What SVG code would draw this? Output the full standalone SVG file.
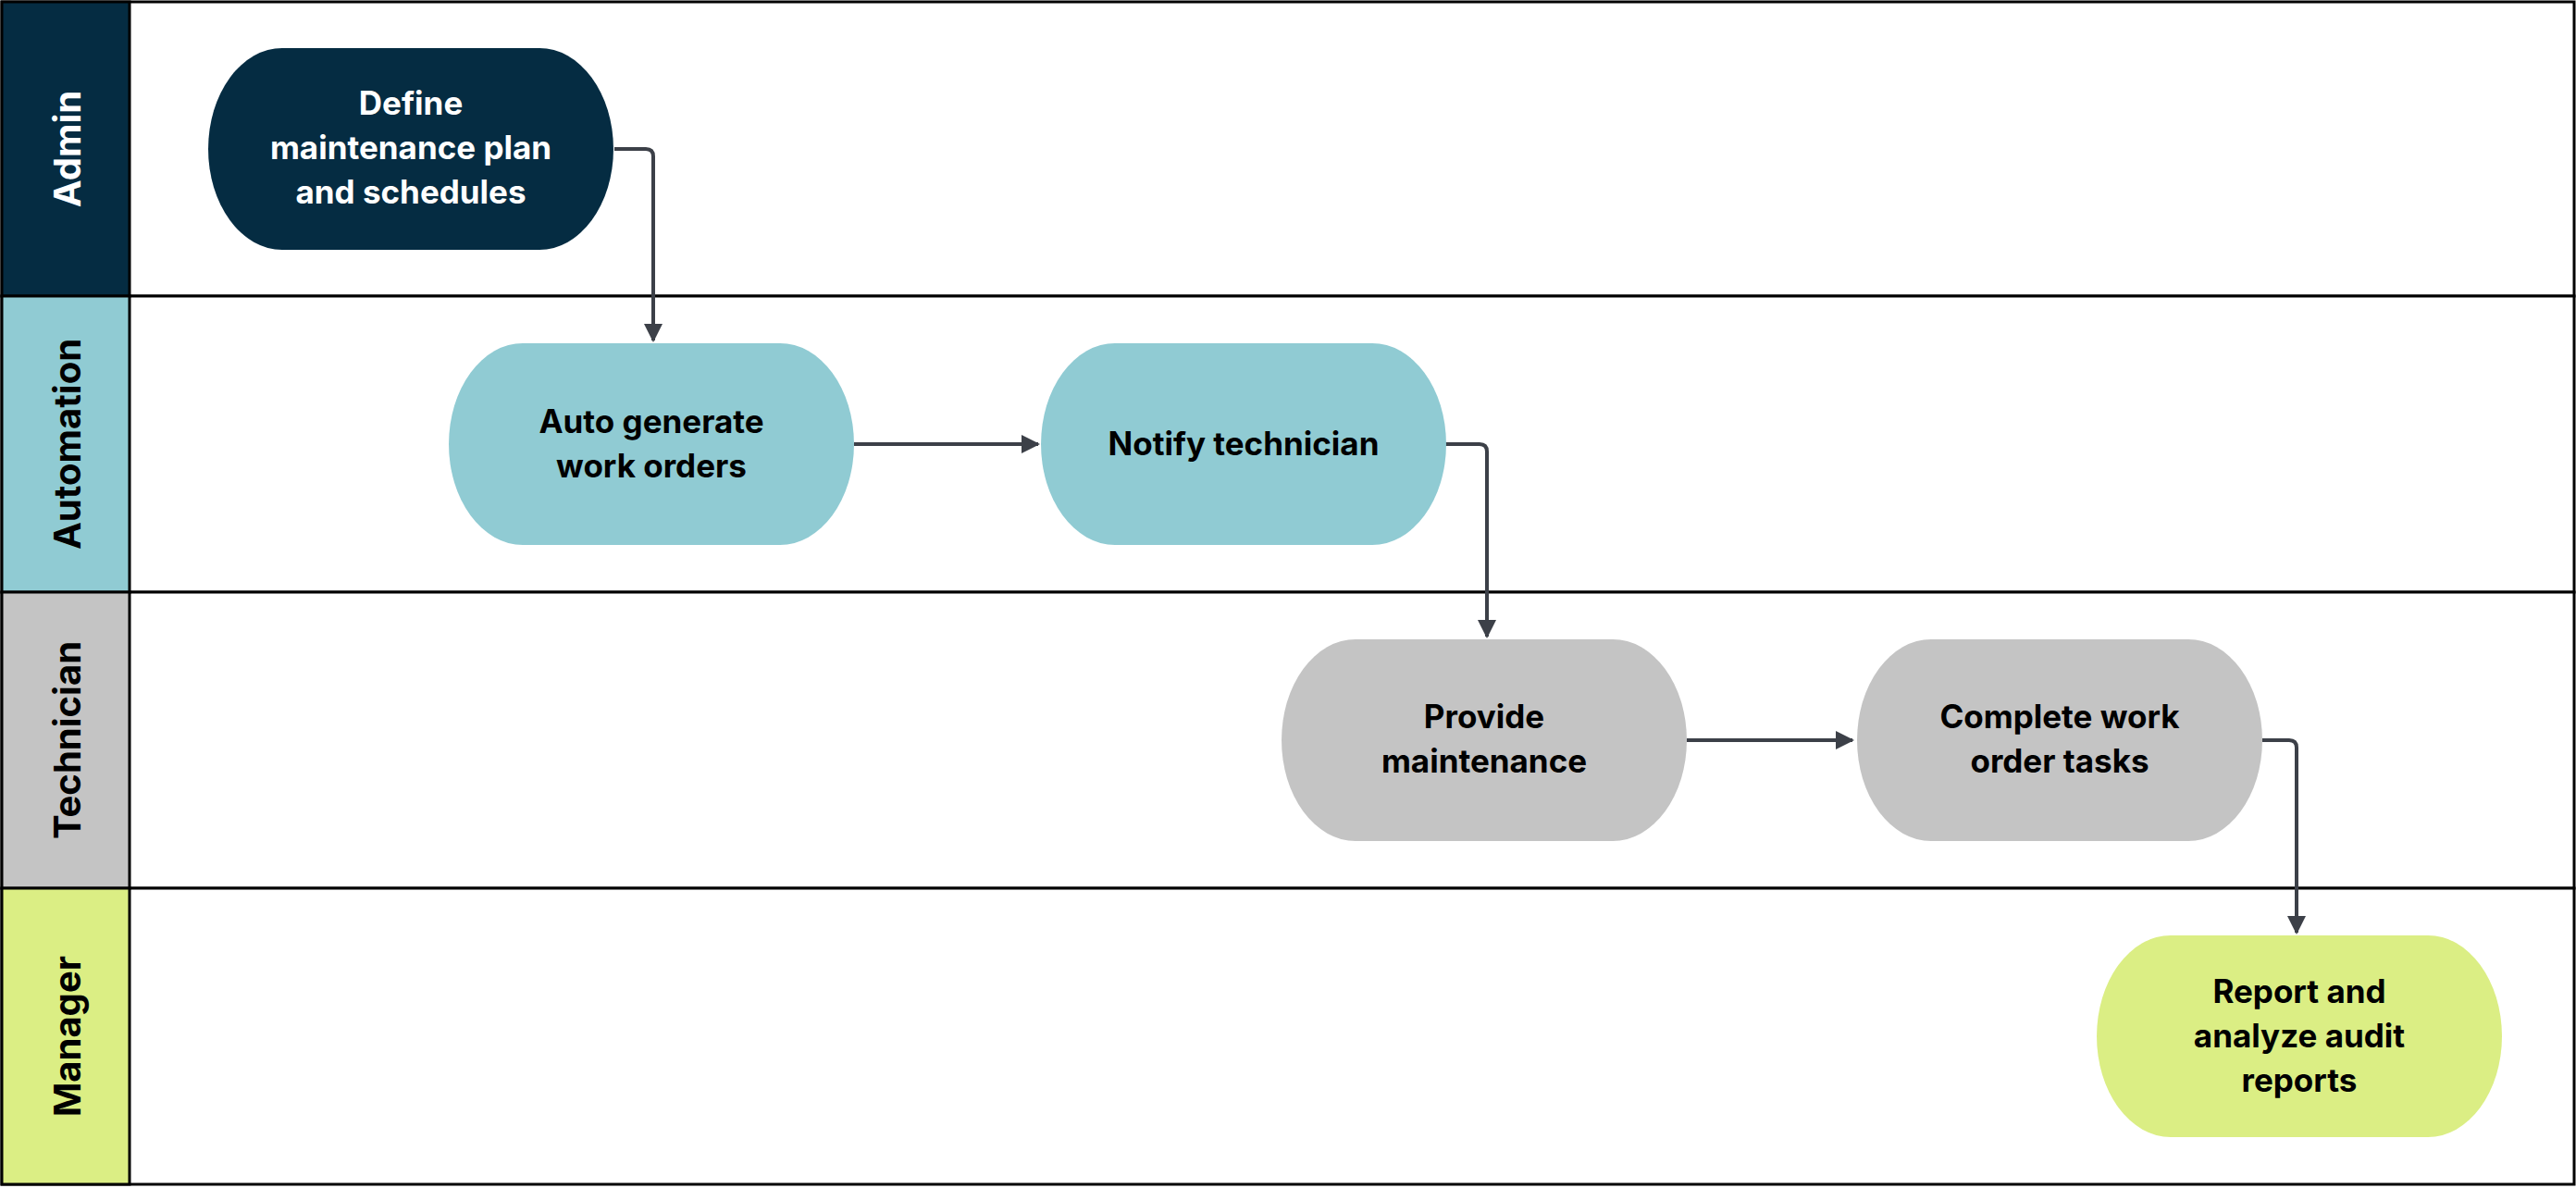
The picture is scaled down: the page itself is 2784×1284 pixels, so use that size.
<svg xmlns="http://www.w3.org/2000/svg" width="2784" height="1284" viewBox="0 0 2784 1284">
<style>
.lane{fill:#fff;stroke:#000;stroke-width:3}
.hdr{stroke:#000;stroke-width:3}
.lt{font-family:"Inter","Liberation Sans",sans-serif;font-weight:700;font-size:40px;text-anchor:middle;dominant-baseline:central}
.nt{font-family:"Inter","Liberation Sans",sans-serif;font-weight:700;font-size:35px;text-anchor:middle}
.c{fill:none;stroke:#3c4048;stroke-width:4;stroke-linejoin:round}
</style>
<defs>
<marker id="a" viewBox="0 0 10 10" refX="9" refY="5" markerWidth="5" markerHeight="5" orient="auto" markerUnits="strokeWidth"><path d="M0,0L10,5L0,10z" fill="#3c4048"/></marker>
<path id="shape" d="M-139,-109 H139 A80,109 0 0 1 139,109 H-139 A80,109 0 0 1 -139,-109 Z"/>
</defs>
<g id="lanes">
<rect class="lane" x="2" y="2" width="2780" height="318"/>
<rect class="lane" x="2" y="320" width="2780" height="320"/>
<rect class="lane" x="2" y="640" width="2780" height="320"/>
<rect class="lane" x="2" y="960" width="2780" height="320"/>
<rect class="hdr" x="2" y="2" width="138" height="318" fill="#052c42"/>
<rect class="hdr" x="2" y="320" width="138" height="320" fill="#90cbd3"/>
<rect class="hdr" x="2" y="640" width="138" height="320" fill="#c4c4c4"/>
<rect class="hdr" x="2" y="960" width="138" height="320" fill="#dbee84"/>
<text class="lt" fill="#fff" transform="translate(72,161) rotate(-90)">Admin</text>
<text class="lt" fill="#000" transform="translate(72,480) rotate(-90)">Automation</text>
<text class="lt" fill="#000" transform="translate(72,800) rotate(-90)">Technician</text>
<text class="lt" fill="#000" transform="translate(72,1120) rotate(-90)">Manager</text>
</g>
<g id="connectors">
<path class="c" d="M664,161 H698 Q706,161 706,169 V368" marker-end="url(#a)"/>
<path class="c" d="M923,480 H1122" marker-end="url(#a)"/>
<path class="c" d="M1562,480 H1599 Q1607,480 1607,488 V688" marker-end="url(#a)"/>
<path class="c" d="M1823,800 H2002" marker-end="url(#a)"/>
<path class="c" d="M2445,800 H2474 Q2482,800 2482,808 V1008" marker-end="url(#a)"/>
</g>
<g id="n1"><use href="#shape" x="444" y="161" fill="#052c42"/>
<text class="nt" fill="#fff" x="444" y="124">Define</text><text class="nt" fill="#fff" x="444" y="172">maintenance plan</text><text class="nt" fill="#fff" x="444" y="220">and schedules</text></g>
<g id="n2"><use href="#shape" x="704" y="480" fill="#90cbd3"/>
<text class="nt" x="704" y="468">Auto generate</text><text class="nt" x="704" y="516">work orders</text></g>
<g id="n3"><use href="#shape" x="1344" y="480" fill="#90cbd3"/>
<text class="nt" x="1344" y="492">Notify technician</text></g>
<g id="n4"><use href="#shape" x="1604" y="800" fill="#c4c4c4"/>
<text class="nt" x="1604" y="787">Provide</text><text class="nt" x="1604" y="835">maintenance</text></g>
<g id="n5"><use href="#shape" x="2226" y="800" fill="#c4c4c4"/>
<text class="nt" x="2226" y="787">Complete work</text><text class="nt" x="2226" y="835">order tasks</text></g>
<g id="n6"><use href="#shape" x="2485" y="1120" fill="#dbee84"/>
<text class="nt" x="2485" y="1084">Report and</text><text class="nt" x="2485" y="1132">analyze audit</text><text class="nt" x="2485" y="1180">reports</text></g>
</svg>
